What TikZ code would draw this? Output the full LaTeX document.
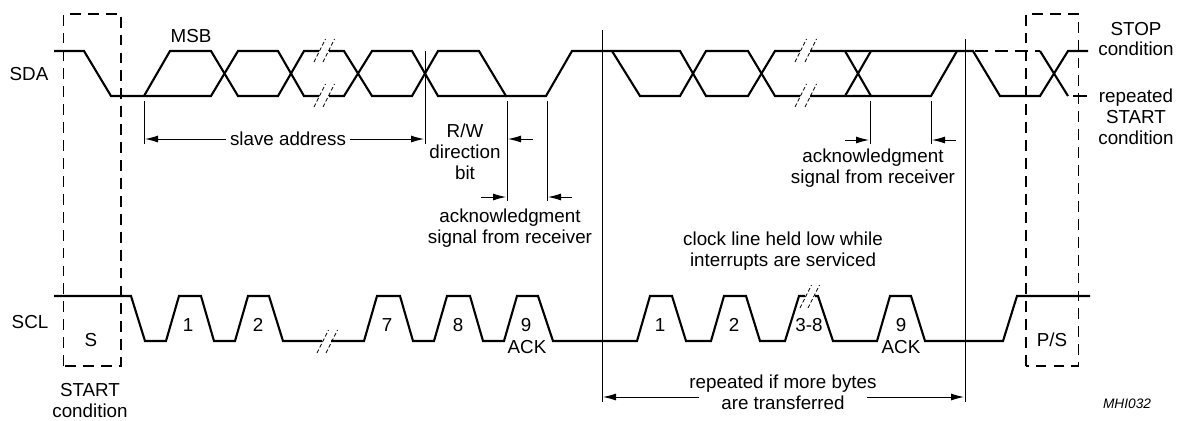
\documentclass[tikz,border=0pt]{standalone}
\usepackage{fontspec}
\setmainfont{Liberation Sans}
\usetikzlibrary{arrows.meta}
\usetikzlibrary{positioning}

\begin{document}
\begin{tikzpicture}[
	x=0.02cm, y=-0.02cm,
  > = {Latex[length=7.4pt,width=4pt]},
  signal/.style = {line width=1.2pt,line join=miter},
  thin line/.style = {line width=0.55pt},
  breakmark/.style = {line width=0.45pt,dash pattern=on 2.2pt off 1.3pt},
  frame/.style = {line width=0.85pt,dash pattern=on 6.2pt off 4pt},
  lbl/.style = {align=center,inner sep=2.2pt,font=\fontsize{10.7}{11.8}\selectfont}
  ]
	\useasboundingbox (0,0) rectangle (1183,420);

	% dashed frames
	\draw[frame] (63.5,366) -- (63.5,14) -- (121,14) -- (121,366) -- cycle;
	\draw[frame] (1026,366) -- (1026,14) -- (1078.5,14) -- (1078.5,366) -- cycle;

	% SDA
	\draw[signal] (54,51) -- (84,51) -- (111,96) -- (211,96) -- (238,51) -- (278,51) -- (304,96) -- (319,96);
	\draw[signal] (144,96) -- (170,51) -- (211,51) -- (238,96) -- (278,96) -- (304,51) -- (319,51);
	\draw[signal] (329,51) -- (344,51) -- (372,96) -- (412,96) -- (438,51) -- (479,51) -- (506,96) -- (546,96) -- (572,51) -- (680,51) -- (706,96) -- (748,96) -- (775,51) -- (800,51);
	\draw[signal] (329,96) -- (344,96) -- (372,51) -- (412,51) -- (438,96) -- (506,96);
	\draw[signal] (612,51) -- (640,96) -- (680,96) -- (706,51) -- (748,51) -- (775,96) -- (800,96);
	\draw[signal] (810,51) -- (973,51) -- (1000,96) -- (1040,96) -- (1068,51) -- (1088,51);
	\draw[signal] (810,96) -- (931,96) -- (957,51);
	\draw[signal] (845,51) -- (871,96);
	\draw[signal] (845,96) -- (871,51);
	\draw[signal,dash pattern=on 7.4pt off 4pt] (975,51) -- (1040,51);
	\draw[signal] (1040,51) -- (1068,96);
	\draw[signal] (1073,96) -- (1087,96);

	% SCL
	\draw[signal] (54,296) -- (131,296) -- (145,341) -- (166,341) -- (179,296) -- (201,296) -- (214,341) -- (235,341) -- (248,296) -- (269,296) -- (283,341) -- (322,341);
	\draw[signal] (331,341) -- (364,341) -- (377,296) -- (400,296) -- (413,341) -- (434,341) -- (447,296) -- (470,296) -- (483,341) -- (504,341) -- (517,296) -- (538,296) -- (553,341) -- (637,341) -- (650,296) -- (672,296) -- (686,341) -- (711,341) -- (724,296) -- (746,296) -- (760,341) -- (785,341) -- (799,296) -- (805,296);
	\draw[signal] (815,296) -- (818,296) -- (833,341) -- (877,341) -- (890,296) -- (911,296) -- (925,341) -- (1003,341) -- (1017,296) -- (1090,296);

	% breaks in the lines
	\foreach \x/\y in {314/62,323/62,314/107,323/107,795/62,805/62,795/107,805/107,800/308,808/308,317/353,326/353}
		\draw[breakmark] (\x,\y) -- ++(11.5,-23);

	% bounds of the measures
	\draw[thin line] (144,101) -- (144,144);
	\draw[thin line] (425,51) -- (425,144);
	\draw[thin line] (507,101) -- (507,201);
	\draw[thin line] (547,101) -- (547,201);
	\draw[thin line] (870,101) -- (870,144);
	\draw[thin line] (931,101) -- (931,144);
	\draw[thin line] (602,30) -- (602,402);
	\draw[thin line] (965,39) -- (965,402);

	\node[lbl] (sda) at (29,74) {SDA};
	\node[lbl] (scl) at (30,322) {SCL};
	\node[lbl] (msb) at (191,36) {MSB};
	\node[lbl] (slave) at (288,139) {slave address};
	\node[lbl] (rw) at (465,152) {R/W\\direction\\bit};
	\node[lbl] (ack1) at (510,228) {acknowledgment\\signal from receiver};
	\node[lbl] (ack2) at (873,168) {acknowledgment\\signal from receiver};
	\node[lbl] (clock) at (783,251) {clock line held low while\\interrupts are serviced};
	\node[lbl] (stop) at (1136,39) {STOP\\condition};
	\node[lbl] (rep) at (1136,117) {repeated\\START\\condition};
	\node[lbl] (s) at (91,340) {S};
	\node[lbl] (ps) at (1052,340) {P/S};
	\node[lbl,inner sep=0pt] (start) at (90,400.5) {START\\condition};
	\node[lbl] (more) at (783,392) {repeated if more bytes\\are transferred};
	\node[lbl,font=\fontsize{7.8}{9}\selectfont\itshape] (code) at (1127,404) {MHI032};

	\node[lbl] (b1) at (188,325) {1};
	\node[lbl] (b2) at (258,325) {2};
	\node[lbl] (b7) at (387,325) {7};
	\node[lbl] (b8) at (458,325) {8};
	\node[lbl] (b9) at (526,325) {9};
	\node[lbl] (a9) at (527,347) {ACK};
	\node[lbl] (c1) at (660,325) {1};
	\node[lbl] (c2) at (734,325) {2};
	\node[lbl] (c3) at (809,325) {3-8};
	\node[lbl] (c9) at (901,325) {9};
	\node[lbl] (d9) at (901,347) {ACK};

	\coordinate (@1) at (145,139);
	\coordinate (@2) at (424,139);
	\coordinate (@3) at (533,139);
	\coordinate (@4) at (508,139);
	\coordinate (@5) at (481,197);
	\coordinate (@6) at (506,197);
	\coordinate (@7) at (572,197);
	\coordinate (@8) at (548,197);
	\coordinate (@9) at (845,140);
	\coordinate (@10) at (869,140);
	\coordinate (@11) at (956,140);
	\coordinate (@12) at (932,140);
	\coordinate (@13) at (699,397);
	\coordinate (@14) at (603,397);
	\coordinate (@15) at (867,397);
	\coordinate (@16) at (964,397);

	\draw[thin line,->] (slave) -- (@1);
	\draw[thin line,->] (slave) -- (@2);
	\draw[thin line,->] (@3) -- (@4);
	\draw[thin line,->] (@5) -- (@6);
	\draw[thin line,->] (@7) -- (@8);
	\draw[thin line,->] (@9) -- (@10);
	\draw[thin line,->] (@11) -- (@12);
	\draw[thin line,->] (@13) -- (@14);
	\draw[thin line,->] (@15) -- (@16);

\end{tikzpicture}
\end{document}
